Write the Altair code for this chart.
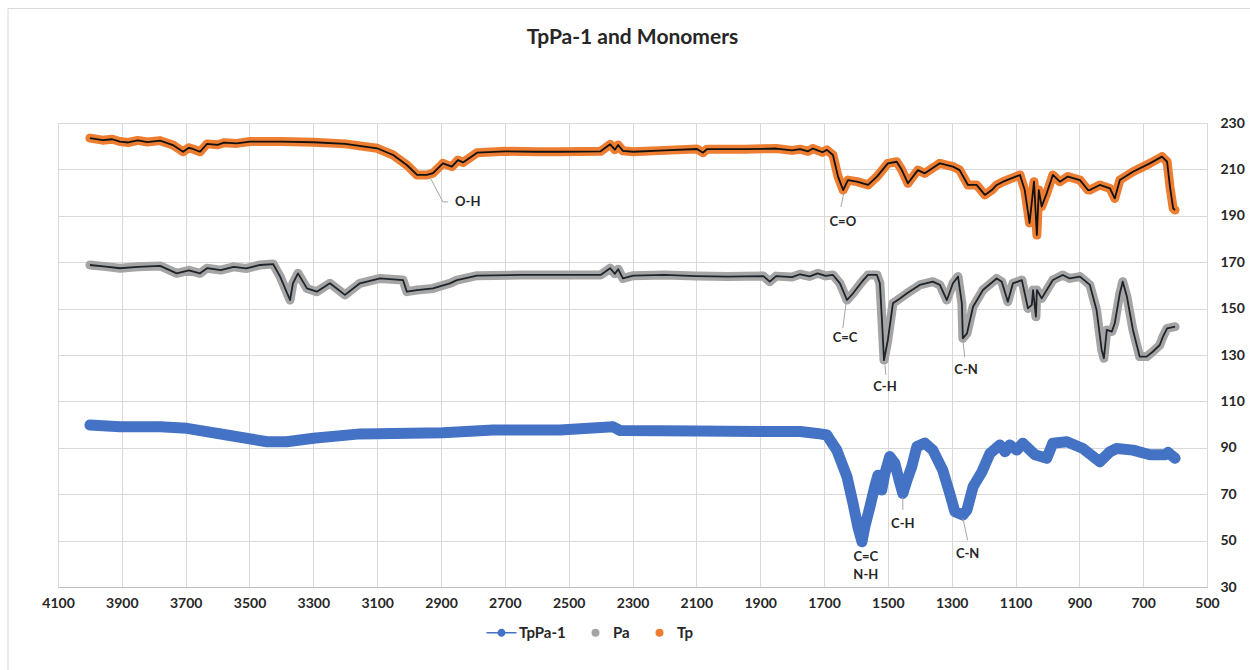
import altair as alt
import pandas as pd

# ---- FTIR spectra (wavenumber cm-1, transmittance with vertical offsets) ----
tp_wn = [4000, 3960, 3930, 3906, 3880, 3850, 3820, 3780, 3740, 3708, 3690, 3677, 3655, 3633,
         3600, 3580, 3540, 3498, 3400, 3300, 3200, 3100, 3050, 3007, 2975, 2944, 2925, 2894,
         2866, 2847, 2831, 2787, 2700, 2600, 2527, 2400, 2370, 2355, 2345, 2330, 2298, 2200,
         2098, 2079, 2067, 1950, 1850, 1800, 1775, 1750, 1735, 1720, 1705, 1691, 1672, 1656,
         1640, 1625, 1597, 1562, 1534, 1500, 1472, 1456, 1437, 1406, 1384, 1337, 1296, 1275,
         1249, 1222, 1196, 1174, 1159, 1139, 1086, 1071, 1056, 1042, 1033, 1027, 1018, 1002,
         983, 961, 936, 898, 873, 867, 836, 804, 789, 773, 732, 679, 641, 625, 616, 606, 600]
tp_val = [223.5, 222.6, 223, 222, 221.6, 222.5, 221.8, 222.4, 220.5, 217.6, 219.3, 218.8, 217.6, 221,
          220.6, 221.5, 221.2, 222, 222, 221.7, 221, 219.1, 216.2, 211.9, 207.6, 207.6, 208.4, 212.6,
          211.2, 214, 213, 217.2, 217.8, 217.6, 217.6, 217.8, 220.8, 218.5, 220.5, 218, 217.6, 218.2,
          218.8, 217.2, 218.7, 218.7, 219, 218.2, 218.7, 217.8, 219, 218.2, 217.4, 218.4, 216.2, 206.9,
          201.1, 205.4, 204.7, 203.3, 206.9, 212.6, 213.3, 209.7, 204, 209.7, 208.3, 212.6, 211.2, 209.7,
          203.3, 203.3, 199, 201.1, 203.3, 204.7, 207.6, 201.1, 186.9, 204.7, 181.7, 201.1, 194, 199.8,
          207.6, 204.7, 206.9, 205.4, 201.1, 201.1, 203.3, 201.8, 197.5, 205.4, 209, 212.6, 215.5, 213.3,
          202.5, 193.2, 192.5]

pa_wn = [4000, 3950, 3906, 3850, 3780, 3728, 3690, 3655, 3633, 3590, 3550, 3510, 3467, 3426,
         3404, 3373, 3364, 3348, 3320, 3289, 3248, 3201, 3154, 3091, 3019, 3007, 2975, 2925,
         2872, 2850, 2787, 2650, 2527, 2400, 2370, 2355, 2345, 2330, 2298, 2200, 2100, 2000,
         1890, 1870, 1850, 1800, 1775, 1745, 1720, 1695, 1672, 1650, 1628, 1609, 1581, 1562,
         1534, 1525, 1519, 1512, 1500, 1484, 1462, 1440, 1400, 1359, 1337, 1315, 1296, 1280,
         1268, 1265, 1252, 1233, 1202, 1159, 1143, 1124, 1108, 1080, 1061, 1049, 1045, 1036,
         1033, 1018, 983, 952, 930, 898, 867, 846, 830, 823, 814, 798, 789, 773, 764, 751, 732,
         711, 689, 670, 648, 638, 625, 600]
pa_val = [168.8, 168.1, 167.4, 168, 168.4, 165.2, 166.5, 165.2, 167.4, 166.6, 168, 167.3, 168.8, 169.2,
          163.8, 153.7, 160.9, 165.2, 158.7, 157.3, 160.9, 155.9, 160.9, 163, 162.3, 157.3, 158, 158.7,
          160.9, 162.3, 164.2, 164.5, 164.5, 164.5, 167.4, 165, 167, 163, 164.2, 164.5, 164, 163.8,
          164, 161.6, 164, 163.6, 164.8, 163.9, 165.2, 164.1, 164.5, 160.9, 153.7, 156.6, 161.6, 164.5,
          164.5, 160.9, 146.5, 127.8, 136.4, 152.3, 154.4, 156.6, 160.2, 161.6, 160.2, 153.7, 160.9, 163.8,
          152.3, 137.2, 139.3, 150.8, 158, 163, 161.6, 153, 160.9, 162.3, 150.1, 151.6, 158, 146.5,
          158, 154.4, 162.3, 164.5, 163, 163.8, 160.2, 149.4, 132.2, 128.6, 140.8, 140.1, 143.7, 156.6,
          161.6, 155.2, 140.8, 129.3, 129.3, 131.4, 134.3, 137.9, 141.5, 142.2]

cof_wn = [4000, 3906, 3780, 3696, 3571, 3445, 3383, 3300, 3154, 2894, 2737, 2527, 2361, 2340,
          2100, 1900, 1775, 1722, 1691, 1681, 1660, 1628, 1609, 1594, 1581, 1572, 1556, 1541,
          1531, 1519, 1509, 1494, 1478, 1462, 1453, 1440, 1425, 1409, 1384, 1359, 1328, 1306,
          1290, 1265, 1252, 1233, 1205, 1180, 1149, 1133, 1118, 1096, 1077, 1039, 1002, 983,
          939, 889, 836, 804, 783, 732, 679, 631, 622, 600]
cof_val = [99.8, 99.1, 99.1, 98.4, 95.5, 92.6, 92.6, 94.1, 96, 96.5, 97.7, 97.7, 99.1, 97.5,
           97.2, 97, 97, 96.2, 95.5, 93.4, 89, 77.5, 66, 56, 49.5, 56, 64.6, 73.2,
           78.2, 71.8, 79, 86.2, 83.3, 74.7, 70.3, 76.1, 81.9, 90.5, 92, 89, 80.4, 70.3,
           62.5, 61, 63.2, 73.2, 79.7, 87.6, 91.2, 88.3, 91.2, 89, 92, 87, 85.5, 92,
           92.6, 89.7, 84, 88.3, 89.7, 89, 87, 87, 88, 85.5]

series_names = ["TpPa-1", "Pa", "Tp"]
series_colors = ["#4472C4", "#A5A5A5", "#ED7D31"]
halo_widths = [11, 9, 9]
trace_colors = [None, "#1E242B", "#111111"]

x_ticks = list(range(500, 4101, 200))
y_ticks = list(range(30, 231, 20))

# band assignments
ann_label = ["O-H", "C=O", "C=C", "C-H", "C-N", "C-H", "C=C", "N-H", "C-N"]
ann_wn = [2856, 1641, 1634, 1509, 1255, 1453, 1569, 1569, 1250]
ann_val = [196, 187.3, 137.3, 116.2, 123.5, 57.2, 42.9, 35.2, 44.2]
ann_align = ["left", "center", "center", "center", "center", "center", "center", "center", "center"]

lead_wn = [2935, 2894, 1638, 1631, 1509, 1265, 1453, 1265]
lead_val = [206.7, 196, 199.8, 152.4, 125.7, 136.5, 68.8, 59.7]
lead_wn2 = [2894, 2878, 1647, 1641, 1506, 1259, 1453, 1250]
lead_val2 = [196, 196, 193.8, 141.6, 121.4, 129.1, 63.2, 50.2]

rows = []
for name, wn, val in [("TpPa-1", cof_wn, cof_val), ("Pa", pa_wn, pa_val), ("Tp", tp_wn, tp_val)]:
    for w, v in zip(wn, val):
        rows.append({"series": name, "wn": w, "T": v})
spectra = pd.DataFrame(rows)

ann = pd.DataFrame({"label": ann_label, "wn": ann_wn, "T": ann_val, "align": ann_align})
leads = pd.DataFrame({"wn": lead_wn, "T": lead_val, "wn2": lead_wn2, "T2": lead_val2})

FONT = "Lato"
TXT = "#262626"

x_enc = alt.X(
    "wn:Q",
    scale=alt.Scale(domain=[500, 4100], reverse=True, nice=False, zero=False),
    axis=alt.Axis(values=x_ticks, title=None, format="d", ticks=False, labelPadding=9,
                  labelFont=FONT, labelFontSize=14, labelFontWeight="bold", labelColor=TXT,
                  domainColor="#BFBFBF", gridColor="#D9D9D9", gridWidth=1,
                  labelOverlap=False, labelFlush=False),
)
y_enc = alt.Y(
    "T:Q",
    scale=alt.Scale(domain=[30, 230], nice=False, zero=False),
    axis=alt.Axis(orient="right", values=y_ticks, title=None, ticks=False, domain=False,
                  labelPadding=13, labelAlign="left",
                  labelFont=FONT, labelFontSize=14, labelFontWeight="bold", labelColor=TXT,
                  gridColor="#D9D9D9", gridWidth=1),
)

base = alt.Chart(spectra)

# outer chart-area frame
frame = alt.Chart(pd.DataFrame({"k": [0]})).mark_rect(
    fill=None, stroke="#D9D9D9", strokeWidth=1
).encode(x=alt.value(-50), x2=alt.value(1200), y=alt.value(-114.5), y2=alt.value(560))

layers = [frame]
for i, (name, color, width, tcol) in enumerate(zip(series_names, series_colors, halo_widths, trace_colors)):
    sub = base.transform_filter(alt.datum.series == name)
    enc_x = x_enc if i == 0 else alt.X("wn:Q")
    enc_y = y_enc if i == 0 else alt.Y("T:Q")
    # wide band that reads as the dense run of markers
    layers.append(sub.mark_line(color=color, strokeWidth=width, strokeCap="round",
                                strokeJoin="round").encode(x=enc_x, y=enc_y))
    layers.append(sub.mark_circle(color=color, size=width * width * 0.8, opacity=1).encode(
        x="wn:Q", y="T:Q"))
    if tcol:
        layers.append(sub.mark_line(color=tcol, strokeWidth=1.8, strokeJoin="round").encode(
            x="wn:Q", y="T:Q"))

# legend: line-with-marker glyph for the framework, plain markers for the monomers
line_path = "M-3.75,-0.19L3.75,-0.19L3.75,0.19L-3.75,0.19ZM1,0A1,1,0,1,1,-1,0A1,1,0,1,1,1,0Z"
legend_cfg = alt.Legend(
    title=None, orient="none", direction="horizontal", legendX=436, legendY=502,
    symbolSize=64, symbolOpacity=1, symbolStrokeWidth=0, labelFont=FONT, labelFontSize=15,
    labelFontWeight="bold", labelColor=TXT, labelOffset=10, columnPadding=22,
)
legend_layer = base.mark_point(filled=True, opacity=0, size=64).encode(
    x="wn:Q", y="T:Q",
    fill=alt.Fill("series:N", scale=alt.Scale(domain=series_names, range=series_colors), legend=legend_cfg),
    shape=alt.Shape("series:N", scale=alt.Scale(domain=series_names, range=[line_path, "circle", "circle"]),
                    legend=legend_cfg),
)
layers.append(legend_layer)

layers.append(alt.Chart(leads).mark_rule(color="#A6A6A6", strokeWidth=1).encode(
    x="wn:Q", y="T:Q", x2="wn2:Q", y2="T2:Q"
))

layers.append(alt.Chart(ann).transform_filter(alt.datum.align == "center").mark_text(
    font=FONT, fontSize=13, fontWeight="bold", color=TXT, align="center", baseline="middle"
).encode(x="wn:Q", y="T:Q", text="label:N"))

layers.append(alt.Chart(ann).transform_filter(alt.datum.align == "left").mark_text(
    font=FONT, fontSize=13, fontWeight="bold", color=TXT, align="left", baseline="middle"
).encode(x="wn:Q", y="T:Q", text="label:N"))

chart = alt.layer(*layers).properties(
    width=1149,
    height=464,
    title=alt.TitleParams("TpPa-1 and Monomers", font=FONT, fontSize=21, fontWeight="bold",
                          color=TXT, anchor="middle", offset=-40),
    padding={"left": 58, "top": 123, "right": 43, "bottom": 83},
    autosize=alt.AutoSizeParams(type="none"),
).configure_view(stroke=None).configure(background="white")

chart.save("out.html", embed_options={"renderer": "svg", "actions": False})
